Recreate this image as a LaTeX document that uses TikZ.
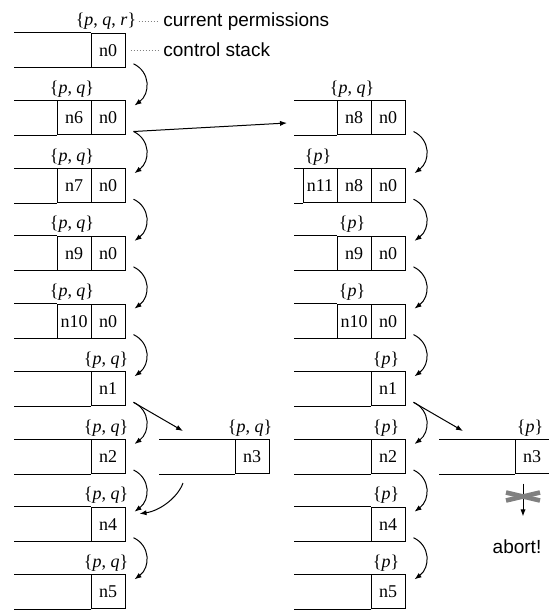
\documentclass[tikz,border=0pt]{standalone}
\usepackage{fontspec}
\setmainfont{Liberation Serif}
\newfontfamily\sansf{Liberation Sans}
\usetikzlibrary{arrows.meta}
\definecolor{crossgray}{RGB}{128,128,128}
\newcommand\permPQR{\{\textit{p}, \textit{q}, \textit{r}\}}
\newcommand\permPQ{\{\textit{p}, \textit{q}\}}
\newcommand\permP{\{\textit{p}\}}
\tikzset{
  cell/.style={draw, line width=0.5pt, minimum width=17pt, minimum height=17pt,
    inner sep=0pt, font=\fontsize{9}{10}\selectfont},
  perm/.style={anchor=base, inner sep=0pt, font=\fontsize{9}{10}\selectfont},
  note/.style={anchor=base west, inner sep=0pt, font=\sansf\fontsize{9.5}{11}\selectfont},
  rail/.style={line width=0.5pt},
  flow/.style={line width=0.5pt, -{Latex[length=3.5pt,width=2.6pt]}},
  leader/.style={crossgray, line width=0.5pt, dash pattern=on 0.5pt off 1pt},
  cross/.style={crossgray, line width=2.3pt},
}
\begin{document}
\begin{tikzpicture}[x=0.5pt, y=-0.5pt]
\useasboundingbox (0,0) rectangle (549,610);

% left ends of the open stack rows
\coordinate (lx) at (14,0);
\coordinate (lxx) at (159,0);
\coordinate (rx) at (294,0);
\coordinate (rxx) at (439,0);

% ---- left stack column ----
\node[cell] (a0) at (108,50.3) {n0};
\node[cell] (a1) at (108,118) {n0};
\node[cell] (a1b) at (74,118) {n6};
\node[cell] (a2) at (108,185.7) {n0};
\node[cell] (a2b) at (74,185.7) {n7};
\node[cell] (a3) at (108,253.4) {n0};
\node[cell] (a3b) at (74,253.4) {n9};
\node[cell] (a4) at (108,321.1) {n0};
\node[cell] (a4b) at (74,321.1) {n10};
\node[cell] (a5) at (108,388.8) {n1};
\node[cell] (a6) at (108,456.5) {n2};
\node[cell] (a7) at (108,524.2) {n4};
\node[cell] (a8) at (108,591.9) {n5};
\node[cell] (a3x) at (252,456.5) {n3};

% ---- right stack column ----
\node[cell] (b1) at (388,118) {n0};
\node[cell] (b1b) at (354,118) {n8};
\node[cell] (b2) at (388,185.7) {n0};
\node[cell] (b2b) at (354,185.7) {n8};
\node[cell] (b2c) at (320,185.7) {n11};
\node[cell] (b3) at (388,253.4) {n0};
\node[cell] (b3b) at (354,253.4) {n9};
\node[cell] (b4) at (388,321.1) {n0};
\node[cell] (b4b) at (354,321.1) {n10};
\node[cell] (b5) at (388,388.8) {n1};
\node[cell] (b6) at (388,456.5) {n2};
\node[cell] (b7) at (388,524.2) {n4};
\node[cell] (b8) at (388,591.9) {n5};
\node[cell] (b3x) at (532,456.5) {n3};

% top and bottom rails of each row
\foreach \c/\s in {a0/lx,a1b/lx,a2b/lx,a3b/lx,a4b/lx,a5/lx,a6/lx,a7/lx,a8/lx,
                   b1b/rx,b2c/rx,b3b/rx,b4b/rx,b5/rx,b6/rx,b7/rx,b8/rx,
                   a3x/lxx,b3x/rxx} {
  \draw[rail] (\c.north west -| \s) -- (\c.north west);
  \draw[rail] (\c.south west -| \s) -- (\c.south west);
}

% permission sets above the top cell of each stack
\foreach \c/\t in {a0/\permPQR,a1b/\permPQ,a2b/\permPQ,a3b/\permPQ,a4b/\permPQ,
                   a5/\permPQ,a6/\permPQ,a7/\permPQ,a8/\permPQ,a3x/\permPQ,
                   b1b/\permPQ,b2c/\permP,b3b/\permP,b4b/\permP,b5/\permP,
                   b6/\permP,b7/\permP,b8/\permP,b3x/\permP} {
  \node[perm] (l-\c) at ([xshift=-1pt,yshift=3.5pt]\c.north) {\t};
}

% legend
\node[note] (cp) at (163,26.3) {current permissions};
\node[note] (cs) at (163,56.5) {control stack};
\coordinate (cpin) at ([xshift=-2.5pt]cp.west);
\coordinate (csin) at ([xshift=-2.5pt]cs.west);
\draw[leader] ([xshift=1pt]l-a0.east) -- (cpin |- l-a0.east);
\draw[leader] ([xshift=2.5pt]a0.east) -- (csin |- a0.east);

% steps down each stack
\foreach \u/\v in {a0/a1,a1/a2,a2/a3,a3/a4,a4/a5,a5/a6,a6/a7,a7/a8,
                   b1/b2,b2/b3,b3/b4,b4/b5,b5/b6,b6/b7,b7/b8} {
  \draw[flow] ([xshift=4pt,yshift=2pt]\u.south east)
    .. controls +(17,8) and +(16,-12) .. ([xshift=4.5pt,yshift=-2.5pt]\v.north east);
}

% jump to the second stack
\coordinate (b1in) at (b1b.west -| rx);
\draw[flow] ([xshift=4pt,yshift=2pt]a1.south east) -- ([xshift=-3.5pt,yshift=-2.5pt]b1in);

% calls into n3
\coordinate (a3xN) at (a3x.north west -| lxx);
\coordinate (a3xS) at (a3x.south west -| lxx);
\coordinate (b3xN) at (b3x.north west -| rxx);
\draw[flow] ([xshift=4pt,yshift=2pt]a5.south east) -- ([xshift=12pt,yshift=4pt]a3xN);
\draw[flow] ([xshift=4pt,yshift=2pt]b5.south east) -- ([xshift=12pt,yshift=4pt]b3xN);

% return from n3 to n4
\draw[flow] ([xshift=12pt,yshift=-4.5pt]a3xS)
  .. controls +(-5,14) and +(21,-3) .. ([xshift=7pt,yshift=-3.5pt]a7.north east);

% blocked return
\node[note, anchor=base] (ab) at (517,553) {abort!};
\coordinate (abortFrom) at ([xshift=-4.5pt,yshift=-4.75pt]b3x.south);
\coordinate (abortTo) at ([yshift=11.2pt]ab.north);
\draw[flow] (abortFrom) -- (abortFrom |- abortTo);
\draw[cross] ([shift={(-17,9)}]abortFrom) -- ([shift={(17,17)}]abortFrom);
\draw[cross] ([shift={(-17,17)}]abortFrom) -- ([shift={(17,9)}]abortFrom);
\end{tikzpicture}
\end{document}
